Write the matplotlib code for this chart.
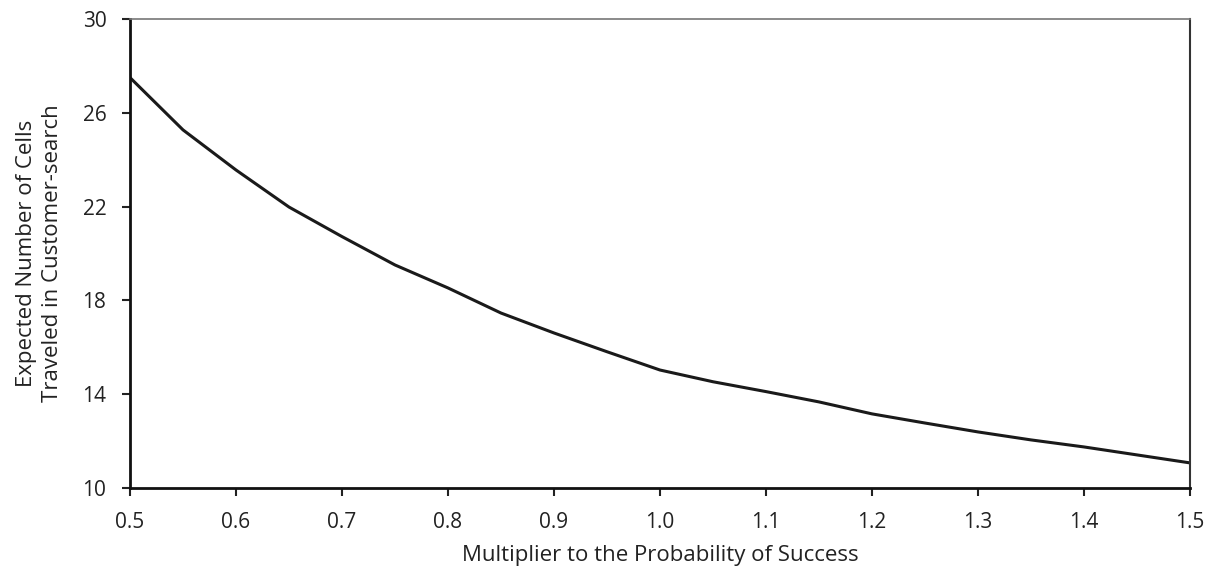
import matplotlib
matplotlib.use('Agg')
import matplotlib.pyplot as plt

# multiplier vs expected cells traveled
mult = [0.5, 0.55, 0.6, 0.65, 0.7, 0.75, 0.8, 0.85, 0.9, 0.95, 1.0,
        1.05, 1.1, 1.15, 1.2, 1.25, 1.3, 1.35, 1.4, 1.45, 1.5]
cells = [27.5, 25.27, 23.56, 21.98, 20.72, 19.51, 18.53, 17.46, 16.61, 15.81, 15.03,
         14.53, 14.11, 13.67, 13.16, 12.77, 12.39, 12.05, 11.75, 11.41, 11.07]
xticks = [0.5, 0.6, 0.7, 0.8, 0.9, 1.0, 1.1, 1.2, 1.3, 1.4, 1.5]
yticks = [10, 14, 18, 22, 26, 30]

plt.rcParams['font.family'] = ['Open Sans', 'DejaVu Sans']

fig = plt.figure(figsize=(12.14, 5.72), dpi=100)
ax = fig.add_axes([0.1071, 0.1469, 0.8731, 0.8199])
ax.plot(mult, cells, color='#1a1a1a', lw=2.2)

ax.set_xlim(0.5, 1.5)
ax.set_ylim(10, 30)
ax.set_xticks(xticks)
ax.set_xticklabels(['%.1f' % v for v in xticks])
ax.set_yticks(yticks)
ax.tick_params(direction='out', length=6, width=1.5, labelsize=15, colors='#222222')
ax.tick_params(axis='x', pad=11)
ax.tick_params(axis='y', pad=11)

ax.spines['left'].set_linewidth(2)
ax.spines['bottom'].set_linewidth(2)
ax.spines['left'].set_color('#111111')
ax.spines['bottom'].set_color('#111111')
ax.spines['top'].set_linewidth(1.2)
ax.spines['top'].set_color('#777777')
ax.spines['right'].set_linewidth(1.5)
ax.spines['right'].set_color('#333333')

ax.set_xlabel('Multiplier to the Probability of Success', fontsize=16, color='#222222', labelpad=9)
ax.set_ylabel('Expected Number of Cells\nTraveled in Customer-search', fontsize=16,
              color='#222222', labelpad=14, linespacing=1.3)

fig.savefig('out.png', dpi=100)
